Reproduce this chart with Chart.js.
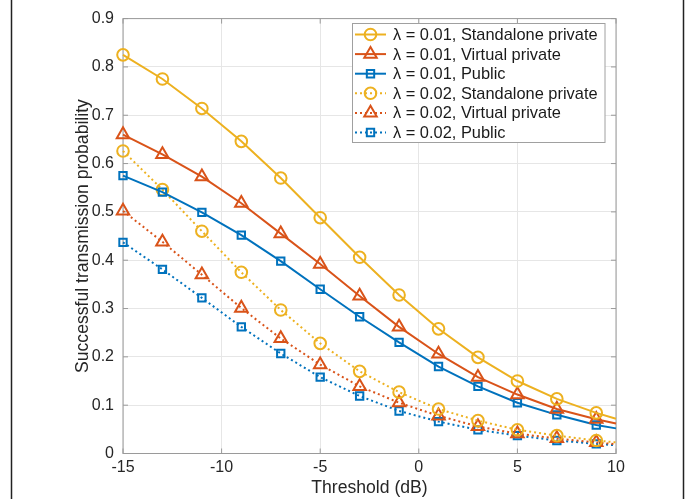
<!DOCTYPE html>
<html>
<head>
<meta charset="utf-8">
<script src="https://cdn.jsdelivr.net/npm/chart.js@4"></script>
<style>
  html, body { margin: 0; padding: 0; background: #fff; }
  canvas { display: block; }
</style>
</head>
<body>
<canvas id="myChart" width="692" height="499"></canvas>
<script>
// Threshold in dB (markers on odd values, line runs to 10)
const thresholds = [-15, -13, -11, -9, -7, -5, -3, -1, 1, 3, 5, 7, 9, 10];

// lambda = 0.01
const standalone1 = [0.825, 0.775, 0.714, 0.646, 0.570, 0.488, 0.406, 0.328, 0.258, 0.199, 0.150, 0.113, 0.084, 0.072];
const virtual1    = [0.660, 0.619, 0.573, 0.518, 0.455, 0.392, 0.326, 0.262, 0.206, 0.158, 0.122, 0.092, 0.071, 0.062];
const public1     = [0.575, 0.541, 0.499, 0.452, 0.398, 0.340, 0.283, 0.230, 0.180, 0.139, 0.105, 0.080, 0.059, 0.052];

// lambda = 0.02
const standalone2 = [0.626, 0.546, 0.460, 0.375, 0.297, 0.228, 0.170, 0.127, 0.092, 0.068, 0.049, 0.037, 0.027, 0.023];
const virtual2    = [0.502, 0.438, 0.370, 0.301, 0.238, 0.184, 0.139, 0.105, 0.078, 0.056, 0.041, 0.031, 0.023, 0.019];
const public2     = [0.437, 0.381, 0.322, 0.262, 0.207, 0.158, 0.119, 0.088, 0.066, 0.049, 0.037, 0.027, 0.020, 0.017];

const seriesLabels = [
  'λ = 0.01, Standalone private',
  'λ = 0.01, Virtual private',
  'λ = 0.01, Public',
  'λ = 0.02, Standalone private',
  'λ = 0.02, Virtual private',
  'λ = 0.02, Public'
];

const xTicks = [-15, -10, -5, 0, 5, 10];
const yTicks = [0, 0.1, 0.2, 0.3, 0.4, 0.5, 0.6, 0.7, 0.8, 0.9];

const YELLOW = '#EDB120';
const RED = '#D95319';
const BLUE = '#0072BD';
const FONT = "'Liberation Sans', Arial, Helvetica, sans-serif";

const markerSize = { circle: 5.8, triangle: 7.2, rect: 5.2 };

function makeDataset(label, values, color, style, dotted) {
  return {
    label: label,
    data: thresholds.map((t, i) => ({ x: t, y: values[i] })),
    borderColor: color,
    borderWidth: 2,
    borderDash: dotted ? [2, 3] : [],
    pointStyle: style,
    pointRadius: thresholds.map((t, i) => i === thresholds.length - 1 ? 0 : markerSize[style]),
    pointBorderColor: color,
    pointBackgroundColor: 'rgba(0,0,0,0)',
    pointBorderWidth: 2,
    tension: 0,
    fill: false,
    clip: false
  };
}

const datasets = [
  makeDataset(seriesLabels[0], standalone1, YELLOW, 'circle', false),
  makeDataset(seriesLabels[1], virtual1, RED, 'triangle', false),
  makeDataset(seriesLabels[2], public1, BLUE, 'rect', false),
  makeDataset(seriesLabels[3], standalone2, YELLOW, 'circle', true),
  makeDataset(seriesLabels[4], virtual2, RED, 'triangle', true),
  makeDataset(seriesLabels[5], public2, BLUE, 'rect', true)
];

function drawMarker(ctx, style, x, y, r) {
  ctx.beginPath();
  if (style === 'circle') {
    ctx.arc(x, y, r, 0, Math.PI * 2);
  } else if (style === 'triangle') {
    ctx.moveTo(x, y - r);
    ctx.lineTo(x + 0.866 * r, y + 0.5 * r);
    ctx.lineTo(x - 0.866 * r, y + 0.5 * r);
    ctx.closePath();
  } else {
    const s = Math.SQRT1_2 * r;
    ctx.rect(x - s, y - s, 2 * s, 2 * s);
  }
  ctx.stroke();
}

// box, inner ticks and page side lines
const framePlugin = {
  id: 'frame',
  beforeDraw(chart) {
    const ctx = chart.ctx;
    ctx.save();
    ctx.strokeStyle = '#222';
    ctx.lineWidth = 1.5;
    ctx.beginPath();
    ctx.moveTo(11.5, 0); ctx.lineTo(11.5, 499);
    ctx.moveTo(683.5, 0); ctx.lineTo(683.5, 499);
    ctx.stroke();
    ctx.restore();
  },
  beforeDatasetsDraw(chart) {
    const { ctx, chartArea: a, scales } = chart;
    ctx.save();
    ctx.strokeStyle = '#9a9a9a';
    ctx.lineWidth = 1;
    ctx.strokeRect(a.left, a.top, a.right - a.left, a.bottom - a.top);
    ctx.beginPath();
    xTicks.forEach(t => {
      const px = scales.x.getPixelForValue(t);
      ctx.moveTo(px, a.bottom); ctx.lineTo(px, a.bottom - 5);
      ctx.moveTo(px, a.top); ctx.lineTo(px, a.top + 5);
    });
    yTicks.forEach(t => {
      const py = scales.y.getPixelForValue(t);
      ctx.moveTo(a.left, py); ctx.lineTo(a.left + 5, py);
      ctx.moveTo(a.right, py); ctx.lineTo(a.right - 5, py);
    });
    ctx.stroke();
    ctx.restore();
  },
  afterDraw(chart) {
    // legend box in the top right corner
    const ctx = chart.ctx;
    const bx = 352.5, by = 23.5, bw = 252.5, bh = 119;
    ctx.save();
    ctx.fillStyle = '#fff';
    ctx.fillRect(bx, by, bw, bh);
    ctx.strokeStyle = '#a0a0a0';
    ctx.lineWidth = 1;
    ctx.strokeRect(bx, by, bw, bh);
    ctx.font = '16.4px ' + FONT;
    ctx.textBaseline = 'middle';
    chart.data.datasets.forEach((ds, i) => {
      const y = 34.5 + i * 19.6;
      ctx.strokeStyle = ds.borderColor;
      ctx.lineWidth = 2;
      ctx.setLineDash(ds.borderDash);
      ctx.beginPath();
      ctx.moveTo(355, y); ctx.lineTo(386, y);
      ctx.stroke();
      ctx.setLineDash([]);
      drawMarker(ctx, ds.pointStyle, 370.5, y, markerSize[ds.pointStyle]);
      ctx.fillStyle = '#1a1a1a';
      ctx.fillText(ds.label, 393, y + 1);
    });
    ctx.restore();
  }
};

new Chart(document.getElementById('myChart').getContext('2d'), {
  type: 'line',
  data: { datasets: datasets },
  plugins: [framePlugin],
  options: {
    responsive: false,
    animation: false,
    layout: { padding: { left: 73, right: 76, top: 13.5, bottom: 0 } },
    plugins: { legend: { display: false }, tooltip: { enabled: false } },
    scales: {
      x: {
        type: 'linear',
        min: -15,
        max: 10,
        afterFit: s => { s.height = 45.5; },
        afterBuildTicks: s => { s.ticks = xTicks.map(v => ({ value: v })); },
        ticks: { color: '#262626', font: { family: FONT, size: 16 }, padding: 4, maxRotation: 0 },
        grid: { color: '#e6e6e6', drawTicks: false },
        border: { display: false },
        title: { display: true, text: 'Threshold (dB)', color: '#262626', font: { family: FONT, size: 17.6 }, padding: 0 }
      },
      y: {
        min: 0,
        max: 0.9,
        afterFit: s => { s.width = 50; },
        afterBuildTicks: s => { s.ticks = yTicks.map(v => ({ value: v })); },
        ticks: {
          color: '#262626',
          font: { family: FONT, size: 16 },
          padding: 9,
          callback: v => v === 0 ? '0' : v.toFixed(1)
        },
        grid: { color: '#e6e6e6', drawTicks: false },
        border: { display: false },
        title: { display: true, text: 'Successful transmission probability', color: '#262626', font: { family: FONT, size: 17.6 }, padding: 0 }
      }
    }
  }
});
</script>
</body>
</html>
